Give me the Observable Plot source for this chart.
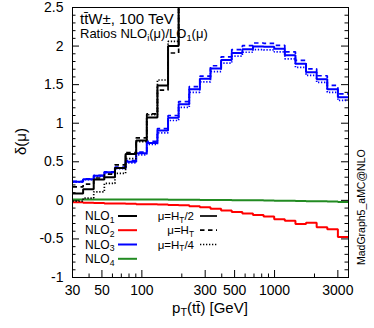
<!DOCTYPE html>
<html><head><meta charset="utf-8">
<script src="https://cdn.jsdelivr.net/npm/d3@7"></script>
<script src="https://cdn.jsdelivr.net/npm/@observablehq/plot@0.6"></script>
<style>
html,body{margin:0;padding:0;background:#fff;}
#chart svg{display:block;}
</style></head><body><div id="chart"></div>
<script>
// bin edges in pT(tt) [GeV]
const binEdges = [30, 36.07, 43.36, 52.14, 62.69, 75.37, 90.61, 108.9, 131.0, 157.5, 189.3, 227.6, 273.7, 329.0, 395.6, 475.7, 571.9, 687.6, 826.7, 993.9, 1195, 1437, 1727, 2077, 2497, 3002, 3609];

// NLO1 / LO1 (runs off the top of the frame after ~190 GeV)
const nlo1_HT2 = [0.09, 0.145, 0.27, 0.30, 0.42, 0.60, 0.775, 1.075, 1.49, 2.00, 3.2];
const nlo1_HT  = [0.175, 0.21, 0.29, 0.34, 0.46, 0.62, 0.81, 1.12, 1.43, 1.91, 3.0];
const nlo1_HT4 = [-0.01, 0.03, 0.11, 0.22, 0.35, 0.54, 0.76, 1.11, 1.56, 2.06, 3.4];

// NLO2 / LO1
const nlo2_HT2 = [-0.025, -0.03, -0.035, -0.04, -0.04, -0.045, -0.05, -0.05, -0.055, -0.06, -0.065, -0.075, -0.09, -0.11, -0.13, -0.15, -0.17, -0.19, -0.21, -0.245, -0.265, -0.305, -0.29, -0.35, -0.375, -0.475];

// NLO3 / LO1
const nlo3_HT2 = [0.24, 0.275, 0.32, 0.365, 0.42, 0.50, 0.61, 0.745, 0.905, 1.07, 1.245, 1.44, 1.575, 1.71, 1.82, 1.91, 1.96, 1.995, 1.99, 1.965, 1.88, 1.77, 1.66, 1.57, 1.44, 1.335];
const nlo3_HT  = [0.245, 0.28, 0.325, 0.37, 0.43, 0.515, 0.625, 0.765, 0.93, 1.10, 1.28, 1.475, 1.61, 1.745, 1.86, 1.955, 2.005, 2.04, 2.035, 2.01, 1.925, 1.815, 1.705, 1.615, 1.49, 1.38];
const nlo3_HT4 = [0.235, 0.27, 0.31, 0.355, 0.41, 0.485, 0.59, 0.725, 0.875, 1.035, 1.205, 1.40, 1.535, 1.67, 1.78, 1.87, 1.92, 1.955, 1.95, 1.925, 1.835, 1.725, 1.62, 1.53, 1.40, 1.295];

// NLO4 / LO1
const nlo4_HT2 = [0.012, 0.012, 0.011, 0.011, 0.011, 0.01, 0.01, 0.01, 0.01, 0.009, 0.008, 0.007, 0.006, 0.005, 0.004, 0.003, 0.002, 0.0, -0.002, -0.004, -0.006, -0.008, -0.01, -0.012, -0.015, -0.02];

// axis ticks
const yMajorTicks = [-1, -0.5, 0, 0.5, 1, 1.5, 2, 2.5];
const yMinorTicks = [-0.9, -0.8, -0.7, -0.6, -0.4, -0.3, -0.2, -0.1, 0.1, 0.2, 0.3, 0.4, 0.6, 0.7, 0.8, 0.9, 1.1, 1.2, 1.3, 1.4, 1.6, 1.7, 1.8, 1.9, 2.1, 2.2, 2.3, 2.4];
const xMajorTicks = [30, 50, 100, 300, 500, 1000, 3000];
const xMinorTicks = [40, 60, 70, 80, 90, 200, 400, 600, 700, 800, 900, 2000];

const seriesColors = {NLO1: "#000000", NLO2: "#ff0000", NLO3: "#0000ff", NLO4: "#228b22"};
const dashHT = "4.5,3.5", dotHT4 = "1.3,1.7";

const W = 374, H = 328, mL = 72, mR = 26, mT = 7, mB = 51;
const pw = W - mL - mR, ph = H - mT - mB;
const FF = "'Liberation Sans', Arial, Helvetica, sans-serif";

function steps(vals) {
  const d = vals.map((v, i) => ({x: binEdges[i], y: v}));
  d.push({x: binEdges[vals.length], y: vals[vals.length - 1]});
  return d;
}
function stepLine(vals, color, dash, sw) {
  return Plot.line(steps(vals), {x: "x", y: "y", curve: "step-after", stroke: color,
    strokeWidth: sw, strokeDasharray: dash, strokeLinecap: "butt", strokeLinejoin: "miter", clip: true});
}

const svg = Plot.plot({
  width: W, height: H, marginLeft: mL, marginRight: mR, marginTop: mT, marginBottom: mB,
  style: {fontFamily: FF, background: "white", color: "black"},
  x: {type: "log", domain: [binEdges[0], binEdges[binEdges.length - 1]], axis: null},
  y: {domain: [-1, 2.5], axis: null},
  marks: [
    // inward ticks
    Plot.ruleY(yMinorTicks, {y: d => d, insetRight: pw - 3.5, stroke: "black", strokeWidth: 1}),
    Plot.ruleY(yMajorTicks, {y: d => d, insetRight: pw - 7, stroke: "black", strokeWidth: 1}),
    Plot.ruleY(yMinorTicks, {y: d => d, insetLeft: pw - 3.5, stroke: "black", strokeWidth: 1}),
    Plot.ruleY(yMajorTicks, {y: d => d, insetLeft: pw - 7, stroke: "black", strokeWidth: 1}),
    Plot.ruleX(xMinorTicks, {x: d => d, insetTop: ph - 3.5, stroke: "black", strokeWidth: 1}),
    Plot.ruleX(xMajorTicks, {x: d => d, insetTop: ph - 7, stroke: "black", strokeWidth: 1}),
    Plot.axisY({ticks: yMajorTicks, tickSize: 0, tickPadding: 9, fontSize: 14, tickFormat: d => String(d), label: null}),
    Plot.axisX({ticks: xMajorTicks, tickSize: 0, tickPadding: 8, fontSize: 14, tickFormat: d => String(d), label: null}),
    // NLO4, NLO2
    stepLine(nlo4_HT2, seriesColors.NLO4, null, 2),
    stepLine(nlo2_HT2, seriesColors.NLO2, null, 2),
    // NLO3
    stepLine(nlo3_HT, seriesColors.NLO3, dashHT, 1.7),
    stepLine(nlo3_HT4, seriesColors.NLO3, dotHT4, 1.7),
    stepLine(nlo3_HT2, seriesColors.NLO3, null, 2),
    // NLO1
    stepLine(nlo1_HT, seriesColors.NLO1, dashHT, 1.7),
    stepLine(nlo1_HT4, seriesColors.NLO1, dotHT4, 1.7),
    stepLine(nlo1_HT2, seriesColors.NLO1, null, 2),
    Plot.frame({stroke: "black", strokeWidth: 1})
  ]
});
document.getElementById("chart").appendChild(svg);

// ---- annotations, legend, axis titles ----
const root = d3.select(svg).append("g").attr("font-family", FF).attr("fill", "black");
function richText(parent, x, y, parts, size, anchor) {
  const t = parent.append("text").attr("x", x).attr("y", y).attr("font-size", size)
    .attr("text-anchor", anchor || "start");
  let shifted = false;
  parts.forEach(p => {
    const sub = Array.isArray(p);
    const s = t.append("tspan").text(sub ? p[0] : p);
    if (sub && !shifted) { s.attr("font-size", size * 0.72).attr("dy", size * 0.22); shifted = true; }
    else if (sub) { s.attr("font-size", size * 0.72); }
    else if (!sub && shifted) { s.attr("dy", -size * 0.22); shifted = false; }
  });
  return t;
}
// title lines
richText(root, 80, 23.5, ["tt\u0304W\u00b1, 100 TeV"], 15);
richText(root, 80, 37.7, ["Ratios NLO", ["i"], "(\u03bc)/LO", ["1"], "(\u03bc)"], 13);

// order legend
const orderRows = [["NLO", "1", seriesColors.NLO1], ["NLO", "2", seriesColors.NLO2], ["NLO", "3", seriesColors.NLO3], ["NLO", "4", seriesColors.NLO4]];
const orderY = [216, 230.2, 244.5, 258.8];
orderRows.forEach((r, i) => {
  richText(root, 85, orderY[i] + 4.2, [r[0], [r[1]]], 12);
  root.append("line").attr("x1", 118).attr("x2", 137).attr("y1", orderY[i]).attr("y2", orderY[i])
    .attr("stroke", r[2]).attr("stroke-width", 2);
});
// scale legend
const scaleRows = [["/2", null], ["", dashHT], ["/4", dotHT4]];
scaleRows.forEach((r, i) => {
  richText(root, 194, orderY[i] + 4.2, ["\u03bc=H", ["T"], r[0]], 11.5, "end");
  const ln = root.append("line").attr("x1", 200).attr("x2", 217).attr("y1", orderY[i]).attr("y2", orderY[i])
    .attr("stroke", "black").attr("stroke-width", 1.7);
  if (r[1]) ln.attr("stroke-dasharray", r[1]);
});

// x title
richText(root, 210, 312.5, ["p", ["T"], "(tt\u0304) [GeV]"], 15, "middle");
// y title
richText(root, 0, 0, ["\u03b4(\u03bc)"], 15, "middle").attr("transform", "translate(26,141.5) rotate(-90)");
// generator tag
richText(root, 0, 0, ["MadGraph5_aMC@NLO"], 10.5, "start").attr("transform", "translate(365,265) rotate(-90)");
</script></body></html>
